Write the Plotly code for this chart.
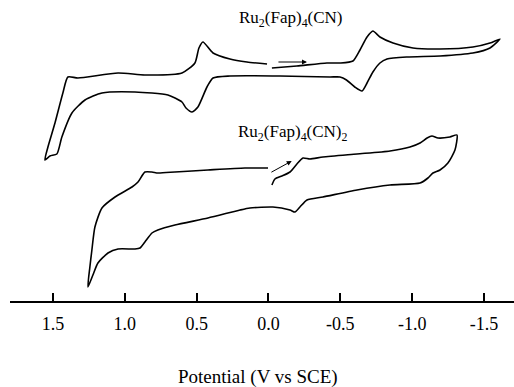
import plotly.graph_objects as go

# ---- Data: cyclic voltammograms (potential in V vs SCE, current in arbitrary units) ----
# Ru2(Fap)4(CN): sweep starts at 0.0 V toward negative potentials, reverses at -1.6 V,
# sweeps to +1.6 V and back to 0.0 V
cn_potential = [
    -0.024, -0.198, -0.407, -0.498, -0.588, -0.637, -0.686, -0.727, -0.776, -0.867,
    -1.006, -1.194, -1.423, -1.542, -1.611,
    -1.542, -1.423, -1.194, -0.964, -0.825, -0.776, -0.727, -0.686, -0.651, -0.601,
    -0.543, -0.498, -0.428, -0.080, 0.268, 0.386, 0.428, 0.491, 0.532, 0.574,
    0.602, 0.700, 0.929, 1.159, 1.277, 1.368, 1.438, 1.473, 1.521, 1.556,
    1.535, 1.486, 1.431, 1.396, 1.326, 1.047, 0.860, 0.602, 0.512, 0.484,
    0.456, 0.386, 0.268, 0.150, 0.010,
]
cn_current = [
    23.3, 23.5, 23.8, 23.8, 24.0, 25.1, 26.4, 27.0, 26.4, 25.8,
    25.3, 25.2, 25.4, 25.8, 26.2,
    25.3, 24.8, 24.5, 24.4, 24.2, 23.8, 22.9, 21.8, 21.0, 21.4,
    22.1, 22.4, 22.4, 22.5, 22.5, 22.3, 21.4, 19.4, 18.9, 19.3,
    19.9, 20.6, 20.9, 20.8, 20.1, 18.8, 16.4, 14.7, 14.5, 14.1,
    15.4, 17.8, 20.8, 22.4, 22.3, 22.8, 22.6, 22.8, 23.8, 25.3,
    25.9, 24.8, 24.2, 23.9, 23.7,
]

# Ru2(Fap)4(CN)2
cn2_potential = [
    -0.024, -0.045, -0.094, -0.150, -0.198, -0.240, -0.289, -0.379, -0.616, -0.846,
    -0.985, -1.055, -1.104, -1.138, -1.180, -1.263, -1.312,
    -1.298, -1.249, -1.194, -1.145, -1.110, -1.055, -0.846, -0.616, -0.379, -0.268,
    -0.219, -0.184, -0.150, -0.031, 0.129, 0.198, 0.421, 0.651, 0.770, 0.811,
    0.860, 0.894, 0.929, 1.047, 1.117, 1.187, 1.222, 1.257,
    1.243, 1.229, 1.208, 1.159, 1.068, 0.950, 0.908, 0.860, 0.811, 0.769,
    0.651, 0.421, 0.164, 0.003,
]
cn2_current = [
    11.6, 12.2, 12.5, 12.9, 13.7, 14.3, 14.2, 14.4, 14.7, 15.0,
    15.4, 15.8, 16.3, 16.5, 16.3, 16.4, 16.6,
    15.1, 13.8, 13.1, 12.8, 12.3, 11.8, 11.6, 11.1, 10.4, 10.1,
    9.4, 8.9, 9.1, 9.4, 9.3, 9.1, 8.3, 7.6, 7.1, 6.8,
    5.9, 5.3, 5.2, 5.2, 4.8, 3.8, 2.6, 1.4,
    3.4, 5.1, 7.4, 9.3, 10.4, 11.4, 11.9, 12.9, 12.9, 12.8,
    12.9, 13.1, 13.3, 13.3,
]

tick_values = [1.5, 1.0, 0.5, 0.0, -0.5, -1.0, -1.5]
tick_labels = ["1.5", "1.0", "0.5", "0.0", "-0.5", "-1.0", "-1.5"]

label_cn = "Ru<sub>2</sub>(Fap)<sub>4</sub>(CN)"
label_cn2 = "Ru<sub>2</sub>(Fap)<sub>4</sub>(CN)<sub>2</sub>"
x_title = "Potential (V vs SCE)"

FONT = "Liberation Serif"

fig = go.Figure()
for xs, ys in [(cn_potential, cn_current), (cn2_potential, cn2_current)]:
    fig.add_trace(go.Scatter(
        x=xs, y=ys, mode="lines",
        line=dict(color="black", width=1.6, shape="spline", smoothing=0.6),
        hoverinfo="skip", showlegend=False,
    ))

annotations = [
    dict(x=-0.16, y=28.2, xref="x", yref="y", text=label_cn, showarrow=False,
         font=dict(family=FONT, size=17, color="black")),
    dict(x=-0.17, y=16.8, xref="x", yref="y", text=label_cn2, showarrow=False,
         font=dict(family=FONT, size=17, color="black")),
    # sweep direction arrows
    dict(x=-0.268, y=23.9, ax=-0.059, ay=23.9, xref="x", yref="y", axref="x", ayref="y",
         text="", showarrow=True, arrowhead=2, arrowsize=1, arrowwidth=1, arrowcolor="black"),
    dict(x=-0.162, y=14.0, ax=-0.010, ay=12.8, xref="x", yref="y", axref="x", ayref="y",
         text="", showarrow=True, arrowhead=2, arrowsize=1, arrowwidth=1, arrowcolor="black"),
    dict(x=0.07, y=0, xref="x", yref="paper", yanchor="middle", yshift=-76,
         text=x_title, showarrow=False, font=dict(family=FONT, size=19, color="black")),
]

fig.update_layout(
    width=514, height=387,
    margin=dict(l=10, r=0, t=10, b=86),
    paper_bgcolor="white", plot_bgcolor="white",
    font=dict(family=FONT, color="black"),
    annotations=annotations,
    xaxis=dict(
        range=[1.799, -1.709], showgrid=False, zeroline=False,
        showline=True, linecolor="black", linewidth=2,
        ticks="inside", ticklen=8, tickwidth=1.5, tickcolor="black",
        tickvals=tick_values, ticktext=tick_labels,
        tickfont=dict(family=FONT, size=18, color="black"),
        ticklabelstandoff=5,
    ),
    yaxis=dict(range=[0, 29.1], visible=False),
)

fig.write_html("out.html")
